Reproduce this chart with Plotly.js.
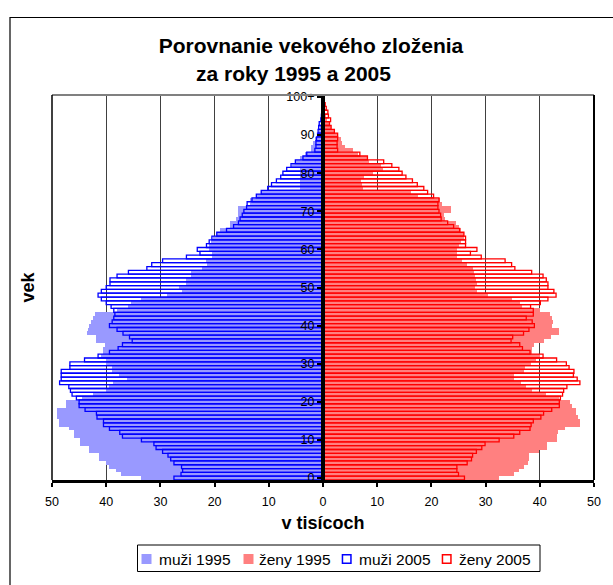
<!DOCTYPE html>
<html>
<head>
<meta charset="utf-8">
<script src="https://cdn.plot.ly/plotly-3.0.1.min.js"></script>
<style>
  html, body { margin: 0; padding: 0; background: #fff; }
  #chart { width: 613px; height: 585px; }
</style>
</head>
<body>
<div id="chart"></div>
<script>
// ages 0..100 (100 = "100+")
const ages = Array.from({length: 101}, (_, i) => i);

// values in thousands, index = age
const muzi1995 = [
  33.5, 37.2, 38.2, 39.5, 40.0, 41.4, 41.4, 43.1, 43.1, 44.9,
  44.9, 45.9, 45.9, 46.8, 48.8, 48.8, 49.0, 49.0, 49.0, 47.5,
  47.5, 44.5, 42.5, 40.0, 39.5, 38.8, 36.2, 37.7, 38.9, 38.9,
  40.0, 40.0, 41.0, 40.5, 40.5, 40.3, 41.9, 41.9, 43.6, 43.4,
  43.1, 42.8, 42.5, 42.0, 38.0, 36.0, 35.4, 33.5, 28.7, 26.0,
  26.5, 25.2, 25.2, 24.3, 24.3, 22.4, 21.4, 21.5, 20.5, 20.5,
  21.0, 21.0, 20.7, 20.3, 19.5, 19.0, 17.2, 17.2, 16.0, 15.6,
  15.6, 15.6, 13.5, 13.5, 12.2, 11.5, 4.3, 4.3, 4.3, 4.3,
  4.3, 4.3, 5.8, 5.2, 4.2, 3.3, 2.3, 2.2, 1.8, 1.4,
  1.0, 0.8, 0.6, 0.4, 0.3, 0.2, 0.15, 0.1, 0.05, 0.03,
  0.05
];
const zeny1995 = [
  32.4, 35.2, 36.1, 37.0, 37.8, 38.0, 38.0, 39.9, 41.4, 41.4,
  43.2, 43.2, 43.4, 44.7, 47.4, 47.4, 47.0, 46.6, 46.6, 46.0,
  45.5, 43.5, 41.1, 38.6, 37.4, 36.6, 35.3, 35.3, 37.0, 37.3,
  38.4, 39.3, 40.0, 38.6, 38.6, 39.0, 40.7, 42.0, 43.6, 43.6,
  42.2, 42.4, 42.2, 41.8, 40.0, 36.8, 36.3, 34.9, 30.5, 28.4,
  28.1, 28.4, 28.2, 28.0, 27.8, 27.6, 26.6, 25.7, 24.7, 24.7,
  24.7, 25.0, 25.5, 26.0, 26.0, 25.5, 25.0, 24.5, 22.5, 22.3,
  23.6, 23.6, 22.0, 21.5, 17.5, 16.2, 7.3, 7.2, 7.1, 7.6,
  9.2, 11.0, 10.7, 8.5, 8.1, 6.5, 5.5, 4.1, 3.5, 3.3,
  2.5, 2.0, 1.5, 1.1, 0.8, 0.6, 0.4, 0.3, 0.2, 0.1,
  0.1
];
const muzi2005 = [
  27.5, 26.2, 25.9, 26.1, 27.5, 28.1, 28.6, 29.6, 30.8, 31.2,
  33.5, 37.0, 37.5, 39.4, 40.5, 40.5, 41.7, 41.8, 43.9, 45.0,
  45.0, 45.5, 46.3, 46.6, 46.9, 48.6, 48.3, 48.3, 48.3, 46.7,
  46.7, 44.0, 41.5, 39.4, 37.8, 37.0, 35.2, 35.7, 36.9, 38.0,
  39.4, 38.9, 38.6, 38.4, 38.6, 39.1, 40.0, 40.9, 41.5, 40.9,
  40.0, 39.3, 39.3, 38.0, 35.9, 32.5, 31.6, 29.6, 25.2, 22.7,
  23.2, 21.5, 21.0, 20.5, 19.6, 17.8, 16.5, 15.6, 15.3, 14.9,
  14.6, 14.1, 14.0, 13.1, 12.3, 11.4, 10.2, 9.5, 8.6, 7.8,
  7.4, 6.7, 5.9, 5.1, 3.7, 3.0, 1.5, 1.3, 1.3, 1.2,
  1.0, 0.9, 0.8, 0.7, 0.4, 0.3, 0.2, 0.1, 0.1, 0.05,
  0.05
];
const zeny2005 = [
  26.1, 25.0, 24.7, 24.7, 26.6, 27.4, 27.6, 28.3, 29.3, 29.9,
  32.5, 35.2, 36.3, 38.2, 38.4, 38.8, 40.2, 40.7, 42.2, 43.6,
  43.6, 43.8, 44.2, 44.4, 45.0, 47.4, 46.9, 46.2, 46.3, 45.4,
  44.9, 43.1, 40.6, 38.2, 36.8, 36.3, 34.7, 35.0, 37.0, 38.0,
  39.0, 38.6, 37.5, 38.8, 38.8, 38.3, 40.1, 41.5, 43.0, 42.6,
  41.5, 41.5, 41.2, 40.6, 38.5, 35.4, 34.8, 33.6, 29.2, 27.2,
  28.4, 26.3, 26.3, 26.3, 26.0, 25.2, 24.1, 23.0, 21.8, 21.7,
  21.4, 21.2, 21.2, 21.4, 20.4, 19.3, 18.6, 17.4, 16.5, 15.3,
  14.6, 14.0, 12.7, 11.2, 8.2, 6.8, 2.7, 2.6, 2.6, 2.7,
  2.7, 2.1, 1.5, 1.2, 1.4, 1.0, 0.9, 0.6, 0.4, 0.2,
  0.1
];

const seriesNames = ['muži 1995', 'ženy 1995', 'muži 2005', 'ženy 2005'];
const xTickVals = [-50, -40, -30, -20, -10, 0, 10, 20, 30, 40, 50];
const xTickText = ['50', '40', '30', '20', '10', '0', '10', '20', '30', '40', '50'];
const yTickVals = [0, 10, 20, 30, 40, 50, 60, 70, 80, 90, 100];
const yTickText = ['0', '10', '20', '30', '40', '50', '60', '70', '80', '90', '100+'];

const FONT = 'Arial, "Liberation Sans", sans-serif';
const neg = arr => arr.map(v => -v);

// series styles
const fills = ['#9999FF', '#FF8080', 'rgba(255,255,255,0)', 'rgba(255,255,255,0)'];
const outlines = [null, null, '#0000FF', '#FF0000'];

const traces = [
  {
    type: 'bar', orientation: 'h', name: seriesNames[0],
    x: neg(muzi1995), y: ages, width: 1,
    marker: {color: fills[0], line: {width: 0}}
  },
  {
    type: 'bar', orientation: 'h', name: seriesNames[1],
    x: zeny1995, y: ages, width: 1,
    marker: {color: fills[1], line: {width: 0}}
  },
  {
    type: 'bar', orientation: 'h', name: seriesNames[2],
    x: neg(muzi2005), y: ages, width: 1,
    marker: {color: fills[2], line: {color: outlines[2], width: 1.3}}
  },
  {
    type: 'bar', orientation: 'h', name: seriesNames[3],
    x: zeny2005, y: ages, width: 1,
    marker: {color: fills[3], line: {color: outlines[3], width: 1.3}}
  }
];

// plot area in pixels (from margins)
const M = {l: 52, r: 19, t: 95, b: 105};
const W = 613, H = 585;
const PW = W - M.l - M.r, PH = H - M.t - M.b;
const px2x = px => (px - M.l) / PW;
const py2y = py => (H - M.b - py) / PH;

// legend layout (pixel positions)
const legBox = {x0: 137.5, x1: 540, y0: 545, y1: 571.5};
const legSwatchX = [141.5, 243.5, 341.7, 441.7];
const legTextX = [157, 256.5, 357, 456.5];
const legMidY = 559;
const SW = 10;

const shapes = [
  // chart outer frame
  {type: 'rect', xref: 'paper', yref: 'paper', x0: px2x(10), x1: 1.1, y0: -0.4, y1: py2y(17.5),
   line: {color: '#000', width: 1.2}, fillcolor: 'rgba(0,0,0,0)', layer: 'below'},
  // plot area frame
  {type: 'line', xref: 'paper', yref: 'paper', x0: 0, x1: 1, y0: 1, y1: 1,
   line: {color: '#808080', width: 2}},
  {type: 'line', xref: 'paper', yref: 'paper', x0: 0, x1: 0, y0: 0, y1: 1,
   line: {color: '#000', width: 1.5}},
  {type: 'line', xref: 'paper', yref: 'paper', x0: 1, x1: 1, y0: 0, y1: 1,
   line: {color: '#000', width: 2}},
  // legend box
  {type: 'rect', xref: 'paper', yref: 'paper',
   x0: px2x(legBox.x0), x1: px2x(legBox.x1), y0: py2y(legBox.y1), y1: py2y(legBox.y0),
   line: {color: '#000', width: 1}, fillcolor: '#ffffff'}
];
const annotations = [
  {
    text: 'vek', textangle: -90,
    xref: 'paper', x: px2x(27.5), xanchor: 'center',
    yref: 'paper', y: py2y(287), yanchor: 'middle',
    showarrow: false,
    font: {family: FONT, size: 18, weight: 700, color: '#000'}
  }
];
seriesNames.forEach((name, i) => {
  const outlined = outlines[i] !== null;
  shapes.push({
    type: 'rect', xref: 'paper', yref: 'paper',
    x0: px2x(legSwatchX[i] + (outlined ? 0.75 : 0)), x1: px2x(legSwatchX[i] + SW - (outlined ? 0.75 : 0)),
    y0: py2y(legMidY + SW / 2 - (outlined ? 0.75 : 0)), y1: py2y(legMidY - SW / 2 + (outlined ? 0.75 : 0)),
    fillcolor: outlined ? '#ffffff' : fills[i],
    line: outlined ? {color: outlines[i], width: 1.5} : {width: 0}
  });
  annotations.push({
    text: name, showarrow: false,
    xref: 'paper', x: px2x(legTextX[i]), xanchor: 'left',
    yref: 'paper', y: py2y(legMidY), yanchor: 'middle',
    font: {family: FONT, size: 15.5, color: '#000'}
  });
});

const layout = {
  width: W, height: H,
  margin: M,
  paper_bgcolor: '#ffffff', plot_bgcolor: '#ffffff',
  font: {family: FONT, color: '#000', size: 12.5},
  barmode: 'overlay', bargap: 0,
  showlegend: false,
  hovermode: false,
  title: {
    text: 'Porovnanie vekového zloženia<br>za roky 1995 a 2005&#160;&#160;&#160;&#160;&#160;&#160;',
    font: {family: FONT, size: 21, weight: 700, color: '#000'},
    xref: 'container', x: 0.5073, xanchor: 'center',
    yref: 'container', y: 0.909, yanchor: 'top'
  },
  xaxis: {
    range: [-50, 50], tickmode: 'array', tickvals: xTickVals, ticktext: xTickText,
    ticks: 'outside', ticklen: 4, tickwidth: 2, tickcolor: '#000',
    showline: true, linewidth: 3, linecolor: '#000',
    showgrid: true, gridcolor: '#404040', gridwidth: 1,
    zeroline: false, fixedrange: true,
    ticklabelstandoff: 4,
    tickfont: {family: FONT, size: 12.5, color: '#000'},
    title: {text: 'v tisícoch', font: {family: FONT, size: 18, weight: 700, color: '#000'}, standoff: 9}
  },
  yaxis: {
    range: [-0.5, 100.5], tickmode: 'array', tickvals: yTickVals, ticktext: yTickText,
    anchor: 'free', position: 0.5, side: 'left',
    ticks: 'outside', ticklen: 4, tickwidth: 2, tickcolor: '#000',
    showline: true, linewidth: 4, linecolor: '#000',
    showgrid: false, zeroline: false, fixedrange: true,
    tickfont: {family: FONT, size: 12.5, color: '#000'}
  },
  annotations: annotations,
  shapes: shapes
};

Plotly.newPlot('chart', traces, layout, {displayModeBar: false, staticPlot: true});
</script>
</body>
</html>
